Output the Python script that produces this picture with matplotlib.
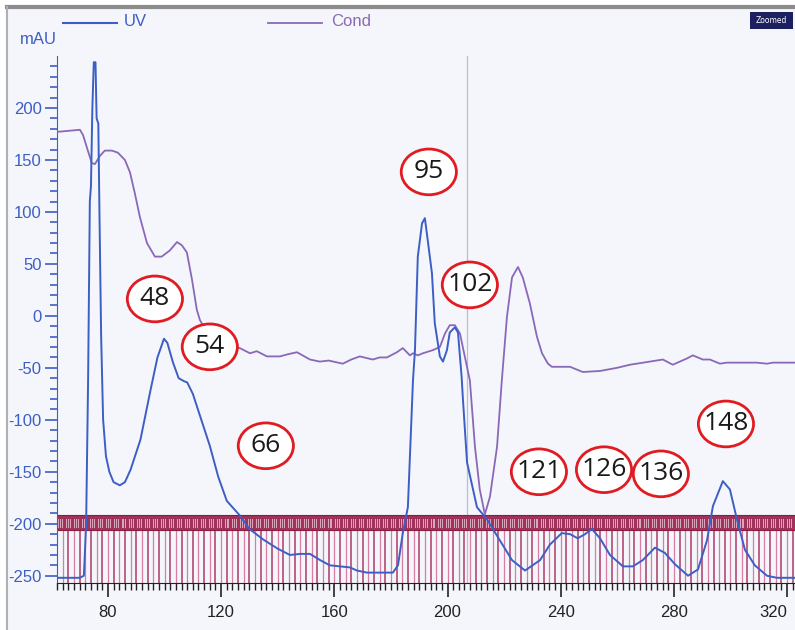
import numpy as np
import matplotlib
matplotlib.use("Agg")
import matplotlib.pyplot as plt
from matplotlib.patches import Ellipse, Rectangle

# ---- data ----
uv_x = [62, 70, 71.5, 72.3, 73.0, 73.6, 74.0, 74.5, 75.0, 75.6, 76.0, 76.6, 77.0, 77.6, 78.3, 79.3,
        80.5, 82.0, 84.2, 86.0, 88.0, 91.5, 95.0, 97.5, 99.8, 101.0, 103.0, 105.0, 107.0, 108.0,
        110.0, 113.0, 116.0, 119.0, 122.0, 126.6, 130.0, 134.8, 140.0, 144.3, 148.0, 151.4, 155.0,
        158.4, 162.0, 165.5, 168.0, 171.5, 180.7, 182.5, 184.2, 186.0, 187.8, 188.5, 189.5, 191.0,
        192.0, 193.0, 194.5, 195.5, 197.3, 198.4, 199.8, 200.8, 202.6, 203.7, 205.0, 205.4, 206.9,
        210.4, 214.0, 218.5, 222.8, 227.4, 232.7, 236.2, 240.4, 243.3, 246.0, 248.6, 251.0, 253.9,
        257.4, 262.0, 265.5, 269.0, 273.3, 276.8, 280.4, 285.0, 288.5, 291.7, 293.8, 297.3, 299.8,
        302.3, 305.1, 308.6, 312.9, 316.4, 322.8]
uv_y = [-252, -252, -250, -200, -60, 110, 125, 200, 244, 244, 190, 185, 100, -20, -100, -135,
        -150, -160, -163, -160, -148, -119, -72, -40, -22, -26, -45, -60, -63, -64,
        -75, -100, -125, -155, -178, -192, -205, -215, -224, -230, -229, -229, -235,
        -240, -241, -242, -245, -247, -247, -240, -209, -184, -62, -33, 57, 89,
        94, 73, 41, -7, -39, -44, -33, -16, -11, -16, -59, -78, -141,
        -184, -196, -216, -235, -245, -235, -220, -209, -210, -214, -210, -205, -214,
        -230, -241, -241, -235, -223, -228, -239, -250, -244, -216, -183, -159, -167,
        -196, -225, -240, -250, -252, -252]

cond_x = [62, 66, 70.1, 71.2, 72.9, 74.3, 75.4, 77.2, 78.9, 81.4, 83.5, 86.0, 87.8, 89.5, 91.3,
          93.8, 96.6, 99.0, 101.9, 104.4, 106.1, 107.9, 109.7, 111.4, 112.5, 115.0, 119.6, 122.0,
          126.6, 130.2, 132.6, 136.2, 140.8, 143.5, 146.8, 151.4, 154.9, 158.0, 163.0, 166.0,
          169.0, 173.6, 176.0, 178.6, 182.1, 184.2, 186.7, 187.8, 189.5, 191.3, 194.8, 197.3,
          199.1, 200.8, 202.6, 204.4, 206.1, 207.9, 209.7, 211.4, 213.2, 215.0, 217.5, 219.2,
          221.0, 222.8, 224.9, 226.6, 229.1, 231.6, 233.4, 235.5, 236.9, 239.7, 243.3, 247.8,
          253.9, 259.9, 264.5, 271.5, 276.1, 279.6, 284.6, 286.7, 290.2, 292.7, 296.3, 298.7,
          309.3, 312.9, 315.0, 322.8]
cond_y = [177, 178, 179, 174, 159, 147, 146, 154, 159, 159, 157, 150, 138, 118, 95,
          70, 57, 57, 63, 71, 68, 61, 35, 6, -4, -16, -26, -28,
          -31, -36, -34, -39, -39, -37, -35, -42, -44, -43, -46, -42,
          -39, -42, -40, -40, -35, -31, -38, -36, -38, -36, -33, -30,
          -17, -9, -9, -17, -39, -62, -126, -167, -191, -174, -126, -62,
          -1, 37, 47, 37, 12, -20, -36, -46, -49, -49, -49, -54,
          -53, -50, -47, -44, -42, -47, -41, -38, -42, -42, -46, -45,
          -45, -46, -45, -45]

peak_labels = ["95", "102", "48", "54", "66", "121", "126", "136", "148"]
label_x = [193.4, 207.9, 96.6, 116.0, 135.8, 232.3, 255.3, 275.4, 298.4]
label_y = [138.5, 29.8, 16.3, -29.8, -125, -150, -148, -152, -104]

frac_start, frac_end, frac_step = 62, 323, 2.0
xticks = [80, 120, 160, 200, 240, 280, 320]
yticks = [-250, -200, -150, -100, -50, 0, 50, 100, 150, 200]

# ---- style ----
BG = "#f4f6fb"
UV_C = "#3d5ec4"
COND_C = "#8a68b8"
AX_C = "#3d5ec4"

fig = plt.figure(figsize=(7.95, 6.3), dpi=100, facecolor=BG)
W, H = 795, 630
ax = fig.add_axes([57 / W, (H - 583) / H, (W - 57) / W, (583 - 56) / H])
ax.set_facecolor(BG)
ax.set_xlim(62, 322.8)
ax.set_ylim(-257, 250)

# fraction band
band_lo, band_hi = -206, -192
fr = np.arange(frac_start, frac_end, frac_step)
for i, f in enumerate(fr):
    if i % 2 == 0:
        ax.plot([f, f], [-257, band_lo], color="#a8325e", lw=1.1, alpha=0.95, zorder=1)
    else:
        ax.plot([f, f], [-257, band_lo], color="#d5709a", lw=0.9, alpha=0.9, zorder=1)
ax.add_patch(Rectangle((62, band_lo), 261, band_hi - band_lo, facecolor="#a0335c",
                       edgecolor="#8a1c3e", lw=0.8, zorder=2))
for i, f in enumerate(np.arange(frac_start + 0.4, frac_end, 0.7)):
    if i % 4 != 3:
        ax.plot([f, f], [band_lo + 2.5, band_hi - 3.5], color="#f3d2de", lw=0.7, alpha=0.75,
                zorder=2.5)

# gray vertical marker
ax.axvline(206.9, color="#b8bfd0", lw=0.9, zorder=1.5)

ax.plot(cond_x, cond_y, color=COND_C, lw=1.3, zorder=3)
ax.plot(uv_x, uv_y, color=UV_C, lw=1.4, zorder=4)

# peak labels
for lab, lx, ly in zip(peak_labels, label_x, label_y):
    ax.add_patch(Ellipse((lx, ly), 19.5, 44, facecolor="white", edgecolor="#e01c22",
                         lw=2.0, zorder=6))
    ax.text(lx, ly, lab, ha="center", va="center", fontsize=19, family="Open Sans",
            color="#1a1a1a", zorder=7)

# axes styling
for s in ["top", "right"]:
    ax.spines[s].set_visible(False)
ax.spines["left"].set_color(AX_C)
ax.spines["bottom"].set_color("#222222")
ax.spines["bottom"].set_position(("data", -257))
ax.set_yticks(yticks)
ax.set_yticklabels([str(v) for v in yticks])
ax.set_yticks(np.arange(-250, 250, 10), minor=True)
ax.tick_params(axis="y", which="major", length=9, width=1.2, color=AX_C, labelcolor=AX_C,
               labelsize=12, pad=2)
ax.tick_params(axis="y", which="minor", length=5, width=1.2, color=AX_C)
ax.set_xticks(xticks)
ax.set_xticks(np.arange(62, 323, 2), minor=True)
ax.tick_params(axis="x", which="major", length=10, width=1.2, color="#222222",
               labelcolor="#222222", labelsize=12, pad=6)
ax.tick_params(axis="x", which="minor", length=5, width=1.0, color="#222222")
for t in ax.get_xticklabels() + ax.get_yticklabels():
    t.set_family("Liberation Sans")
ax.get_xticklabels()[-1].set_horizontalalignment("right")

# legend & header
fig.add_artist(plt.Line2D([63 / W, 117 / W], [1 - 23 / H] * 2, color=UV_C, lw=1.5))
fig.text(124 / W, 1 - 22 / H, "UV", color=UV_C, fontsize=12, va="center", family="Liberation Sans")
fig.add_artist(plt.Line2D([268 / W, 322 / W], [1 - 23 / H] * 2, color=COND_C, lw=1.3))
fig.text(331 / W, 1 - 22 / H, "Cond", color=COND_C, fontsize=12, va="center", family="Liberation Sans")
fig.text(20 / W, 1 - 39 / H, "mAU", color=AX_C, fontsize=12, va="center", family="Liberation Sans")

# Zoomed badge
fig.add_artist(Rectangle((750 / W, 1 - 29 / H), 43 / W, 17 / H, transform=fig.transFigure,
                         facecolor="#1c2060", edgecolor="none"))
fig.text(771 / W, 1 - 20.5 / H, "Zoomed", color="white", fontsize=5.5, ha="center", va="center")

# frame border
fig.add_artist(plt.Line2D([7 / W, 1], [1 - 7 / H] * 2, color="#8c8c8c", lw=3))
fig.add_artist(plt.Line2D([7 / W, 7 / W], [0, 1 - 7 / H], color="#b0b0b0", lw=1.5))
fig.add_artist(Rectangle((0, 0), 6 / W, 1, transform=fig.transFigure, facecolor="white",
                         edgecolor="none"))
fig.add_artist(Rectangle((0, 1 - 5 / H), 1, 5 / H, transform=fig.transFigure, facecolor="white",
                         edgecolor="none"))

fig.savefig("out.png", dpi=100, facecolor=BG)
